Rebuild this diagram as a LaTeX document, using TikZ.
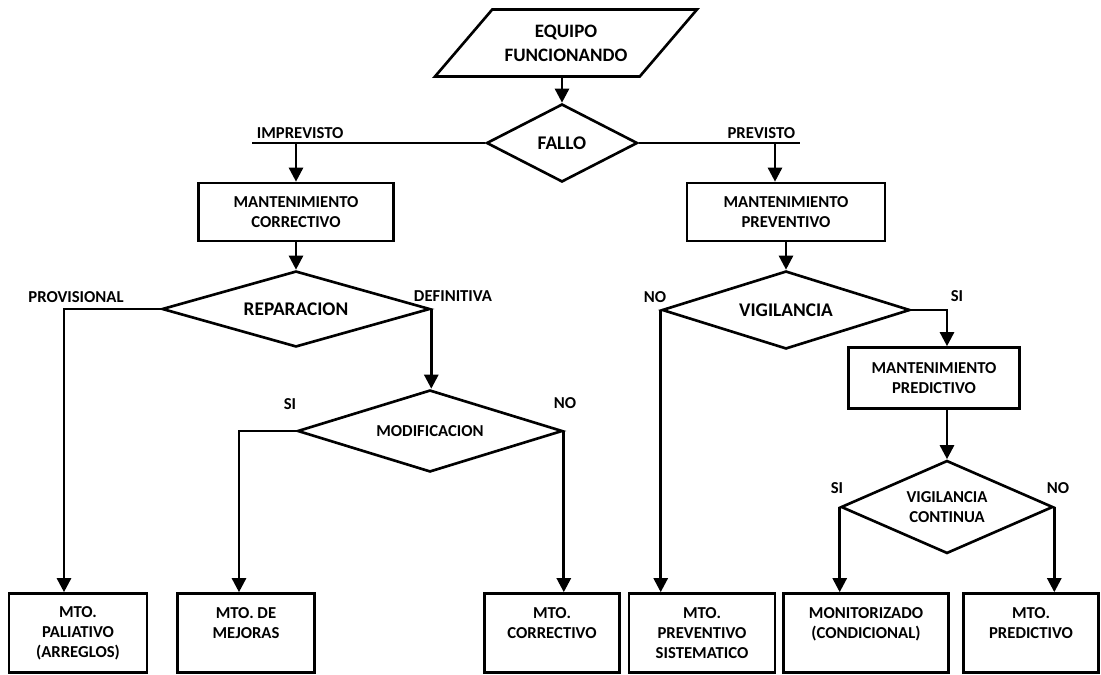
\documentclass[tikz,border=0pt]{standalone}
\usepackage{fontspec}
\setmainfont{Carlito}
\usetikzlibrary{shapes.geometric,arrows.meta}

\begin{document}
\begin{tikzpicture}[x=0.02cm, y=-0.02cm, line width=1.5pt]
% Definición de estilos
\tikzset{
  caja/.style={rectangle, draw, align=center, font=\fontsize{9.5}{11.3}\selectfont\bfseries},
  final/.style={rectangle, draw, align=center, minimum height=1.58cm, font=\fontsize{9.5}{11.3}\selectfont\bfseries},
  decision/.style={diamond, draw, align=center, inner sep=0pt, aspect=3.4, font=\fontsize{11}{13}\selectfont\bfseries},
  dato/.style={trapezium, trapezium left angle=40, trapezium right angle=140, trapezium stretches body, draw, align=center, font=\fontsize{10.8}{13.5}\selectfont\bfseries},
  etiqueta/.style={inner sep=2pt, font=\fontsize{9.5}{11}\selectfont\bfseries},
  flecha/.style={-{Triangle[width=8pt,length=8pt]}}
}
\useasboundingbox (0,0) rectangle (1101,675);

% Inicio
\node[dato, minimum width=5.24cm, minimum height=1.34cm] (equipo) at (566,43) {EQUIPO\\FUNCIONANDO};

% Decision FALLO
\node[decision, minimum width=3.02cm, minimum height=1.56cm] (fallo) at (562,143) {FALLO};
\coordinate (imp) at (252,143);
\coordinate (prev) at (800,143);
\coordinate (prevf) at (775,143);
\node[etiqueta, anchor=south west] (imp_label) at (imp) {IMPREVISTO};
\node[etiqueta, anchor=south east] (prev_label) at (prev) {PREVISTO};

% Rama correctiva
\node[caja, minimum width=3.9cm, minimum height=1.16cm] (mc_box) at (296,212) {MANTENIMIENTO\\CORRECTIVO};
\node[decision, minimum width=5.36cm, minimum height=1.52cm] (rep_dec) at (296,309) {REPARACION};
\coordinate (prov) at (64,309);
\node[etiqueta] (prov_label) at (76,297) {PROVISIONAL};
\node[etiqueta] (def_label) at (453,296) {DEFINITIVA};
\node[decision, font=\fontsize{9.5}{11.3}\selectfont\bfseries, minimum width=5.3cm, minimum height=1.64cm] (mod_dec) at (430,431) {MODIFICACION};
\coordinate (mej) at (239,431);
\node[etiqueta] (si1_label) at (290,404) {SI};
\node[etiqueta] (no1_label) at (565,403) {NO};

% Rama preventiva
\node[caja, minimum width=3.96cm, minimum height=1.16cm] (mp_box) at (786,212) {MANTENIMIENTO\\PREVENTIVO};
\node[decision, minimum width=4.96cm, minimum height=1.56cm] (vig_dec) at (786,310) {VIGILANCIA};
\node[etiqueta] (no2_label) at (655,297) {NO};
\node[etiqueta] (si2_label) at (957,296) {SI};
\coordinate (sip) at (947,310);
\node[caja, minimum width=3.42cm, minimum height=1.22cm] (mpred_box) at (934,378) {MANTENIMIENTO\\PREDICTIVO};
\node[decision, aspect=2.3, font=\fontsize{9.5}{11.3}\selectfont\bfseries, minimum width=4.24cm, minimum height=1.86cm] (vc_dec) at (947,507) {VIGILANCIA\\CONTINUA};
\node[etiqueta] (si3_label) at (837,488) {SI};
\node[etiqueta] (no3_label) at (1058,488) {NO};

% Tipos de mantenimiento
\node[final, minimum width=2.76cm] (pal_box) at (78,633) {MTO.\\PALIATIVO\\(ARREGLOS)};
\node[final, minimum width=2.74cm] (mej_box) at (246,633) {MTO. DE\\MEJORAS\\~};
\node[final, minimum width=2.7cm] (cor_box) at (552,633) {MTO.\\CORRECTIVO\\~};
\node[final, minimum width=2.92cm] (sis_box) at (702,633) {MTO.\\PREVENTIVO\\SISTEMATICO};
\node[final, minimum width=3.3cm] (mon_box) at (866,633) {MONITORIZADO\\(CONDICIONAL)\\~};
\node[final, minimum width=2.7cm] (pred_box) at (1031,633) {MTO.\\PREDICTIVO\\~};

% Conexiones
\draw[flecha] (fallo.north |- equipo.south) -- (fallo.north);
\draw (fallo.west) -- (imp);
\draw[flecha] (mc_box.north |- imp) -- (mc_box);
\draw (fallo.east) -- (prev);
\draw[flecha] (prevf) -- (prevf |- mp_box.north);
\draw[flecha] (mc_box.south) -- (mc_box.south |- rep_dec.north);
\draw[flecha] (rep_dec.west) -- (prov) -- (prov |- pal_box.north);
\draw[flecha] (rep_dec.east) -- (rep_dec.east |- mod_dec.north);
\draw[flecha] (mod_dec.west) -- (mej) -- (mej |- mej_box.north);
\draw[flecha] (mod_dec.east) -- (mod_dec.east |- cor_box.north);
\draw[flecha] (mp_box.south) -- (mp_box.south |- vig_dec.north);
\draw[flecha] (vig_dec.west) -- (vig_dec.west |- sis_box.north);
\draw[flecha] (vig_dec.east) -- (sip) -- (sip |- mpred_box.north);
\draw[flecha] (sip |- mpred_box.south) -- (vc_dec);
\draw[flecha] (vc_dec.west) -- (vc_dec.west |- mon_box.north);
\draw[flecha] (vc_dec.east) -- (vc_dec.east |- pred_box.north);

\end{tikzpicture}
\end{document}
